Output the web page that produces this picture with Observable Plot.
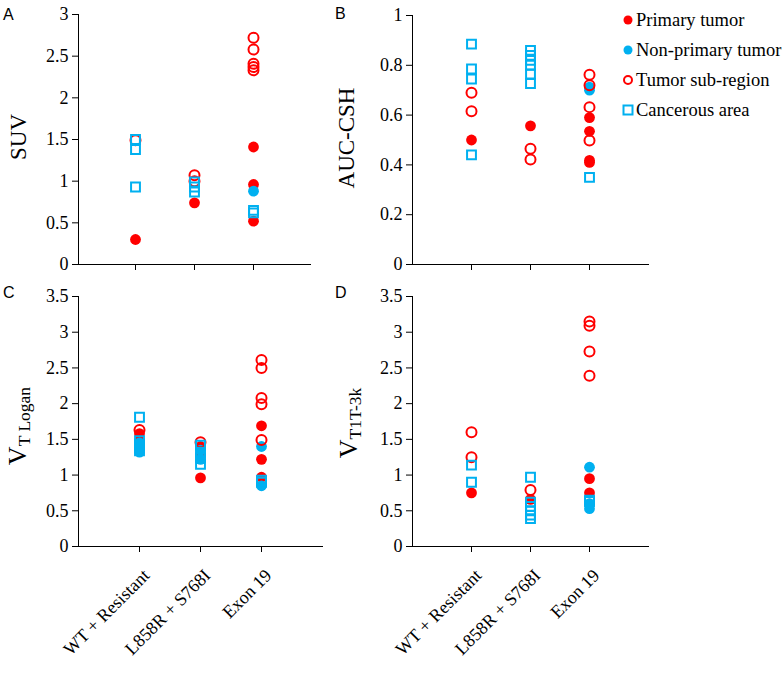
<!DOCTYPE html>
<html>
<head>
<meta charset="utf-8">
<script src="https://cdn.jsdelivr.net/npm/d3@7"></script>
<script src="https://cdn.jsdelivr.net/npm/@observablehq/plot@0.6"></script>
<style>
  html, body { margin: 0; padding: 0; background: #fff; overflow: hidden; }
  #root { position: relative; width: 782px; height: 691px; overflow: hidden; font-family: 'Liberation Serif', 'Times New Roman', serif; }
  .pl { position: absolute; }
  #root svg text { font-family: 'Liberation Serif', 'Times New Roman', serif !important; font-size: 18px !important; fill: #000; }
  .letter { position: absolute; font-family: 'Liberation Sans', Arial, sans-serif; font-size: 16px; line-height: 1; }
  .ytitle { position: absolute; white-space: nowrap; transform: translate(-50%, -50%) rotate(-90deg); line-height: 1; color: #000; font-family: 'Liberation Serif', 'Times New Roman', serif; }
  .ytitle sub { font-size: 17.5px; vertical-align: -0.25em; }
  .legend { position: absolute; left: 622px; top: 5px; font-size: 18.5px; white-space: nowrap; font-family: 'Liberation Serif', 'Times New Roman', serif; }
  .legend div { height: 30px; display: flex; align-items: center; }
  .legend svg { margin-right: 2px; }
</style>
</head>
<body>
<div id="root"></div>
<script>
// ---- data ----
const categories = ["WT + Resistant", "L858R + S768I", "Exon 19"];
const seriesNames = ["Primary tumor", "Non-primary tumor", "Tumor sub-region", "Cancerous area"];

// Panel A: SUV  (per category: WT, L858R, Exon 19)
const suvPrimary    = [[0.30], [0.74], [1.41, 0.96, 0.52]];
const suvNonPrimary = [[], [], [0.88]];
const suvSubRegion  = [[1.49], [1.07, 1.00], [2.72, 2.58, 2.41, 2.37, 2.33]];
const suvCancerous  = [[1.50, 1.38, 0.93], [0.99, 0.93, 0.87], [0.65, 0.62]];

// Panel B: AUC-CSH
const aucPrimary    = [[0.50], [0.557], [0.59, 0.535, 0.418, 0.41]];
const aucNonPrimary = [[], [], [0.712, 0.70]];
const aucSubRegion  = [[0.69, 0.615], [0.465, 0.422], [0.762, 0.72, 0.632, 0.498]];
const aucCancerous  = [[0.885, 0.785, 0.745, 0.44], [0.86, 0.84, 0.82, 0.80, 0.765, 0.727], [0.35]];

// Panel C: VT Logan
const loganPrimary    = [[1.58, 1.48], [1.40, 1.28, 0.96], [1.69, 1.22, 0.97]];
const loganNonPrimary = [[1.45, 1.38, 1.32], [1.35, 1.22], [1.40, 0.85]];
const loganSubRegion  = [[1.63], [1.46], [2.61, 2.50, 2.08, 1.99, 1.49]];
const loganCancerous  = [[1.81, 1.48, 1.41, 1.34], [1.42, 1.32, 1.24, 1.15], [0.93, 0.90]];

// Panel D: VT 1T-3k
const t3kPrimary    = [[0.75], [0.66], [0.95, 0.75]];
const t3kNonPrimary = [[], [], [1.11, 0.60, 0.53]];
const t3kSubRegion  = [[1.60, 1.25], [0.79], [3.15, 3.09, 2.73, 2.39]];
const t3kCancerous  = [[1.14, 0.90], [0.97, 0.62, 0.56, 0.50, 0.44, 0.39], [0.65, 0.63]];

const ticksA = [0, 0.5, 1, 1.5, 2, 2.5, 3];
const ticksB = [0, 0.2, 0.4, 0.6, 0.8, 1];
const ticksCD = [0, 0.5, 1, 1.5, 2, 2.5, 3, 3.5];

const RED = "#ff0000";
const BLUE = "#00b0f0";

function toRows(arr) {
  const out = [];
  arr.forEach((vals, i) => vals.forEach(v => out.push({cat: categories[i], v})));
  return out;
}

function panel(o) {
  const xOpts = {type: "point", domain: categories, padding: o.padding, tickSize: 6, line: true, label: null};
  if (o.labels) { xOpts.tickRotate = -45; xOpts.tickPadding = 12; }
  else { xOpts.tickFormat = () => ""; }
  const svg = Plot.plot({
    width: o.width, height: o.height,
    marginLeft: 78, marginRight: 10, marginTop: o.marginTop, marginBottom: o.marginBottom,
    style: {fontFamily: "'Liberation Serif','Times New Roman',serif", fontSize: "18px", color: "#000", background: "transparent", overflow: "visible"},
    x: xOpts,
    y: {domain: o.domain, ticks: o.ticks, tickFormat: d => String(d), tickSize: 6, tickPadding: 4, line: true, label: null},
    marks: [
      Plot.dot(toRows(o.primary), {x: "cat", y: "v", r: 5.4, fill: RED, stroke: "none"}),
      Plot.dot(toRows(o.nonPrimary), {x: "cat", y: "v", r: 5.4, fill: BLUE, stroke: "none"}),
      Plot.dot(toRows(o.subRegion), {x: "cat", y: "v", r: 5, fill: "none", stroke: RED, strokeWidth: 2}),
      Plot.dot(toRows(o.cancerous), {x: "cat", y: "v", r: 5, symbol: "square", fill: "none", stroke: BLUE, strokeWidth: 2})
    ]
  });
  if (o.labels) {
    // nudge rotated category labels so their ends sit right of and below each tick
    d3.select(svg).selectAll("g[aria-label^='x-axis'] text").each(function () {
      const t = this.getAttribute("transform") || "";
      this.setAttribute("transform", "translate(7,8) " + t);
    });
  }
  return svg;
}

const root = document.getElementById("root");
function place(el, left, top) {
  const d = document.createElement("div");
  d.className = "pl"; d.style.left = left + "px"; d.style.top = top + "px";
  d.appendChild(el); root.appendChild(d);
}

place(panel({primary: suvPrimary, nonPrimary: suvNonPrimary, subRegion: suvSubRegion, cancerous: suvCancerous,
  domain: [0, 3], ticks: ticksA, padding: 0.95, width: 320, height: 284, marginTop: 14, marginBottom: 20, labels: false}), 0, 0);
place(panel({primary: aucPrimary, nonPrimary: aucNonPrimary, subRegion: aucSubRegion, cancerous: aucCancerous,
  domain: [0, 1], ticks: ticksB, padding: 1, width: 324, height: 284, marginTop: 15, marginBottom: 20, labels: false}), 334, 0);
place(panel({primary: loganPrimary, nonPrimary: loganNonPrimary, subRegion: loganSubRegion, cancerous: loganCancerous,
  domain: [0, 3.5], ticks: ticksCD, padding: 1, width: 332, height: 406, marginTop: 16, marginBottom: 140, labels: true}), 0, 280);
place(panel({primary: t3kPrimary, nonPrimary: t3kNonPrimary, subRegion: t3kSubRegion, cancerous: t3kCancerous,
  domain: [0, 3.5], ticks: ticksCD, padding: 1, width: 324, height: 406, marginTop: 16, marginBottom: 140, labels: true}), 334, 280);

// panel letters
[["A", 3, 7], ["B", 335, 6], ["C", 3, 285], ["D", 335, 285]].forEach(([t, x, y]) => {
  const d = document.createElement("div"); d.className = "letter"; d.textContent = t;
  d.style.left = x + "px"; d.style.top = y + "px"; root.appendChild(d);
});

// y titles
function ytitle(html, cx, cy, size) {
  const d = document.createElement("div"); d.className = "ytitle"; d.innerHTML = html;
  d.style.left = cx + "px"; d.style.top = cy + "px"; d.style.fontSize = size + "px";
  root.appendChild(d);
}
ytitle("SUV", 18, 137, 23);
ytitle("AUC-CSH", 346, 138, 23);
ytitle("V<sub>T Logan</sub>", 19, 426, 26);
ytitle("V<sub>T1T-3k</sub>", 350, 423, 26);

// legend
const lg = document.createElement("div"); lg.className = "legend";
const markers = [
  `<circle cx="6" cy="6" r="4.5" fill="${RED}"/>`,
  `<circle cx="6" cy="6" r="4.5" fill="${BLUE}"/>`,
  `<circle cx="6" cy="6" r="4" fill="none" stroke="${RED}" stroke-width="2"/>`,
  `<rect x="1.5" y="1.5" width="9" height="9" fill="none" stroke="${BLUE}" stroke-width="2"/>`
];
seriesNames.forEach((name, i) => {
  const row = document.createElement("div");
  row.innerHTML = `<svg width="12" height="12">${markers[i]}</svg><span>${name}</span>`;
  lg.appendChild(row);
});
root.appendChild(lg);
</script>
</body>
</html>
